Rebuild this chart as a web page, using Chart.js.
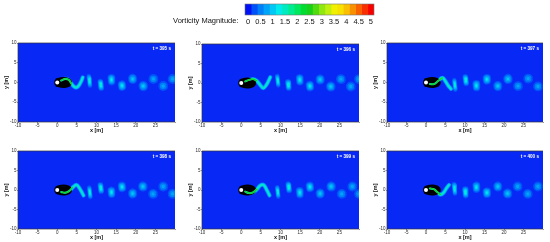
<!DOCTYPE html>
<html>
<head>
<meta charset="utf-8">
<style>
html,body{margin:0;padding:0;background:#fff;width:550px;height:242px;overflow:hidden}
canvas{position:absolute;filter:blur(0.45px)}
</style>
<script src="https://cdn.jsdelivr.net/npm/chart.js@4"></script>
</head>
<body>
<script>
// ---------- data ----------
const times = [395, 396, 397, 398, 399, 400];
const xTickValues = [-10, -5, 0, 5, 10, 15, 20, 25, 30];
const xTickLabels = ['-10', '-5', '0', '5', '10', '15', '20', '25', ''];
const yTickValues = [-10, -5, 0, 5, 10];
const colorLevels = [0,0.25,0.5,0.75,1,1.25,1.5,1.75,2,2.25,2.5,2.75,3,3.25,3.5,3.75,4,4.25,4.5,4.75,5];
const colorTicks = [0,0.5,1,1.5,2,2.5,3,3.5,4,4.5,5];

const vortexX = [
  [8.2,11.1,13.8,16.5,19.2,21.9,24.5,27.0,29.4],
  [9.3,12.0,14.9,17.5,20.1,22.8,25.4,27.9,30.0],
  [7.4,10.2,12.9,15.6,18.4,21.0,23.6,26.2,28.7],
  [8.3,11.1,13.8,16.5,19.2,21.8,24.4,27.0,29.4],
  [9.3,12.1,14.9,17.5,20.1,22.9,25.6,28.3,30.0],
  [7.3,10.1,12.9,15.6,18.4,20.9,23.5,26.1,28.7]
];
const vortexY = [
  [0.4,-0.6,0.7,-0.8,0.9,-0.9,0.9,-0.9,0.9],
  [0.6,-0.5,0.8,-0.8,0.9,-0.9,1.0,-0.9,1.0],
  [-0.6,0.6,-0.8,0.8,-0.9,0.9,-0.9,1.0,-1.0],
  [-0.6,0.5,-0.6,0.8,-0.9,0.9,-1.0,0.9,-1.0],
  [-0.5,0.7,-0.7,0.8,-0.9,0.9,-1.0,0.9,-1.0],
  [0.3,-0.6,0.7,-0.7,0.9,-0.9,0.9,-1.0,0.9]
];
// half width, half height (metres) and peak vorticity of the vortices, oldest last
const vortexHalfWidth  = [0.6,0.75,0.95,1.05,1.15,1.2,1.25,1.25,1.25];
const vortexHalfHeight = [1.8,1.55,1.45,1.35,1.3,1.3,1.25,1.25,1.25];
const vortexPeak       = [1.5,1.5,1.25,1.25,1.0,1.0,0.75,0.75,0.75];

const wakeX = [
  [1,2,2.9,3.6,4.5,5.2,5.9,6.5],
  [1,2,3,3.9,4.9,5.6,6.4,7.4],
  [1,2,3,4.2,5,5.7,6.4],
  [1,2,3,3.9,4.9,5.7,6.7],
  [1,2,3,4,4.9,5.7,6.5,7.2],
  [1,2,3,3.7,4.5,5.2,5.9]
];
const wakeY = [
  [0.5,0.9,0.7,-0.3,-1.2,-1.1,-0.1,1.3],
  [0.4,0.8,1,0.6,-0.6,-1.3,-0.5,1.5],
  [-0.4,-0.4,0.3,1.2,0.3,-0.8,-1.6],
  [-0.5,-0.7,-0.3,0.6,1.3,0.4,-1.4],
  [-0.4,-0.8,-0.6,0.2,1.2,1.3,0,-1.4],
  [0.4,0.2,-0.6,-1.2,-0.7,0.4,1.3]
];
const shearX = [-0.2,1,2.2,3.1];
const shearUpperY = [0.8,1.1,1.1,0.8];
const shearLowerY = [-0.8,-1.1,-1.1,-0.8];
const coreX = [0.2,2.8];
const coreY = [0,0];

// ---------- styles and layout ----------
const palette = ['#0010f4','#0052f8','#0080f8','#00a4f8','#00c8f4','#00ecec','#00ecc0','#00ec90','#00e860','#00dc30',
  '#18d018','#50dc10','#90e810','#c0f010','#f0f000','#f8e000','#f8c000','#f89000','#f86000','#f83000','#f80000'];
const plotBlue = '#0828f6';
const panels = [
  {l:18, r:175, t:43, b:122},{l:202, r:359, t:44, b:122},{l:387, r:543, t:43, b:122},
  {l:18, r:175, t:151, b:229},{l:202, r:359, t:151, b:229},{l:387, r:543, t:151, b:229}
];
const marginL = 18, marginR = 7, marginT = 5, marginB = 13;
const font = 'Liberation Sans, Arial, sans-serif';
const inkColor = '#2a2a2a';

function colorOf(v){ return palette[colorLevels.indexOf(v)]; }
function pts(xs, ys){ return xs.map((x,i)=>({x, y:ys[i]})); }

function lineDs(data, color, width, tension){
  return {type:'line', data, borderColor:color, borderWidth:width, tension:tension||0,
    borderCapStyle:'round', borderJoinStyle:'round', pointRadius:0, pointHoverRadius:0, fill:false};
}

function panelDatasets(p, unitPx){
  const ds = [];
  vortexX[p].forEach((x,i)=>{
    const y = vortexY[p][i];
    const n = Math.round(vortexPeak[i]/0.25);
    const h0 = Math.max(vortexHalfHeight[i]-vortexHalfWidth[i], 0.01);
    for(let k=1;k<=n;k++){
      const f = 1-(k-1)/n;
      const h = h0*f, dx = 0.12*h;
      ds.push(lineDs([{x:x-dx,y:y+h},{x:x+dx,y:y-h}], colorOf(k*0.25), 2*vortexHalfWidth[i]*f*unitPx));
    }
  });
  const wake = pts(wakeX[p], wakeY[p]);
  ds.push(lineDs(wake, colorOf(0.5), 4.2, 0.4));
  ds.push(lineDs(wake, colorOf(1), 2.8, 0.4));
  ds.push(lineDs(wake, colorOf(1.5), 1.2, 0.4));
  ds.push(lineDs(pts(coreX,coreY), '#000', 7.5));
  ds.push(lineDs(pts(shearX,shearUpperY), '#000', 2, 0.4));
  ds.push(lineDs(pts(shearX,shearLowerY), '#000', 2, 0.4));
  const nearWake = wake.slice(0,4);
  ds.push(lineDs(nearWake, colorOf(1.5), 2, 0.4));
  ds.push(lineDs(nearWake, colorOf(2.5), 1.2, 0.4));
  ds.push({type:'scatter', data:[{x:0,y:0}], pointRadius:2, pointBackgroundColor:'#fff', pointBorderWidth:0, pointHoverRadius:0});
  ds.forEach((d,i)=>{ d.order = -i; });
  return ds;
}

const panelPlugin = {
  id:'panelFrame',
  beforeDatasetsDraw(c){
    const a = c.chartArea, g = c.ctx;
    g.save();
    g.fillStyle = plotBlue;
    g.fillRect(a.left, a.top, a.width, a.height);
    g.restore();
  },
  afterDraw(c){
    const a = c.chartArea, g = c.ctx;
    g.save();
    g.strokeStyle = '#333';
    g.lineWidth = 0.7;
    g.beginPath();
    g.moveTo(a.right, a.top); g.lineTo(a.left, a.top); g.lineTo(a.left, a.bottom); g.lineTo(a.right, a.bottom);
    g.stroke();
    g.fillStyle = '#fff';
    g.font = 'bold 4.6px ' + font;
    g.textAlign = 'right';
    g.textBaseline = 'middle';
    g.fillText('t = ' + c.options.plugins.panelFrame.time + ' s', a.right - 4, a.top + 5.5);
    g.restore();
  }
};

panels.forEach((b,p)=>{
  const cv = document.createElement('canvas');
  const w = b.r-b.l+marginL+marginR, h = b.b-b.t+marginT+marginB;
  cv.width = w; cv.height = h;
  cv.style.left = (b.l-marginL)+'px'; cv.style.top = (b.t-marginT)+'px';
  cv.style.width = w+'px'; cv.style.height = h+'px';
  document.body.appendChild(cv);
  new Chart(cv, {
    data:{datasets:panelDatasets(p, (b.r-b.l)/40)},
    plugins:[panelPlugin],
    options:{
      responsive:false, animation:false, devicePixelRatio:1,
      layout:{padding:{left:0,right:marginR,top:marginT,bottom:0}},
      plugins:{legend:{display:false},tooltip:{enabled:false},panelFrame:{time:times[p]}},
      scales:{
        x:{type:'linear',min:-10,max:30,
          afterBuildTicks:s=>{s.ticks=xTickValues.map(v=>({value:v}));},
          afterFit:s=>{s.height=marginB;},
          grid:{drawOnChartArea:false,drawTicks:true,tickLength:1,color:'#333',lineWidth:0.5},
          border:{display:false},
          ticks:{autoSkip:false,maxRotation:0,padding:0.5,color:inkColor,font:{size:4.5,family:font},
            callback:v=>xTickLabels[xTickValues.indexOf(v)]},
          title:{display:true,text:'x [m]',color:'#111',font:{size:5.5,family:font,weight:'bold'},padding:{top:0,bottom:1.5}}
        },
        y:{type:'linear',min:-10,max:10,
          afterBuildTicks:s=>{s.ticks=yTickValues.map(v=>({value:v}));},
          afterFit:s=>{s.width=marginL;},
          grid:{drawOnChartArea:false,drawTicks:true,tickLength:1,color:'#333',lineWidth:0.5},
          border:{display:false},
          ticks:{autoSkip:false,padding:0.5,color:inkColor,font:{size:4.5,family:font},callback:v=>String(v)},
          title:{display:true,text:'y [m]',color:'#111',font:{size:5.5,family:font,weight:'bold'},padding:{top:3,bottom:0}}
        }
      }
    }
  });
});

// ---------- colour bar ----------
const barPlugin = {
  id:'barLabel',
  afterDraw(c){
    const a = c.chartArea, g = c.ctx;
    g.save();
    g.strokeStyle = '#777'; g.lineWidth = 0.6;
    g.strokeRect(a.left, a.top, a.width, a.height);
    g.fillStyle = '#111';
    g.font = '7.5px ' + font;
    g.textAlign = 'right';
    g.textBaseline = 'middle';
    g.fillText('Vorticity Magnitude:', a.left - 6.5, a.bottom + 5.7);
    g.restore();
  }
};
const cb = document.createElement('canvas');
cb.width = 210; cb.height = 28;
cb.style.left = '170px'; cb.style.top = '0px'; cb.style.width = '210px'; cb.style.height = '28px';
document.body.appendChild(cb);
new Chart(cb, {
  type:'bar',
  data:{labels:[''], datasets:colorLevels.map((v,i)=>({
    data:[[v-0.125, v+0.125]], backgroundColor:palette[i], borderWidth:0,
    barPercentage:1, categoryPercentage:1, grouped:false
  }))},
  plugins:[barPlugin],
  options:{
    indexAxis:'y', responsive:false, animation:false, devicePixelRatio:1,
    layout:{padding:{left:75,right:6,top:4,bottom:2}},
    plugins:{legend:{display:false},tooltip:{enabled:false}},
    scales:{
      x:{type:'linear',min:-0.125,max:5.125,
        afterBuildTicks:s=>{s.ticks=colorTicks.map(v=>({value:v}));},
        afterFit:s=>{s.height=11;},
        grid:{display:false,drawTicks:false},border:{display:false},
        ticks:{autoSkip:false,maxRotation:0,padding:2,color:'#111',font:{size:7.5,family:font},callback:v=>String(v)}
      },
      y:{display:false}
    }
  }
});
</script>
</body>
</html>
